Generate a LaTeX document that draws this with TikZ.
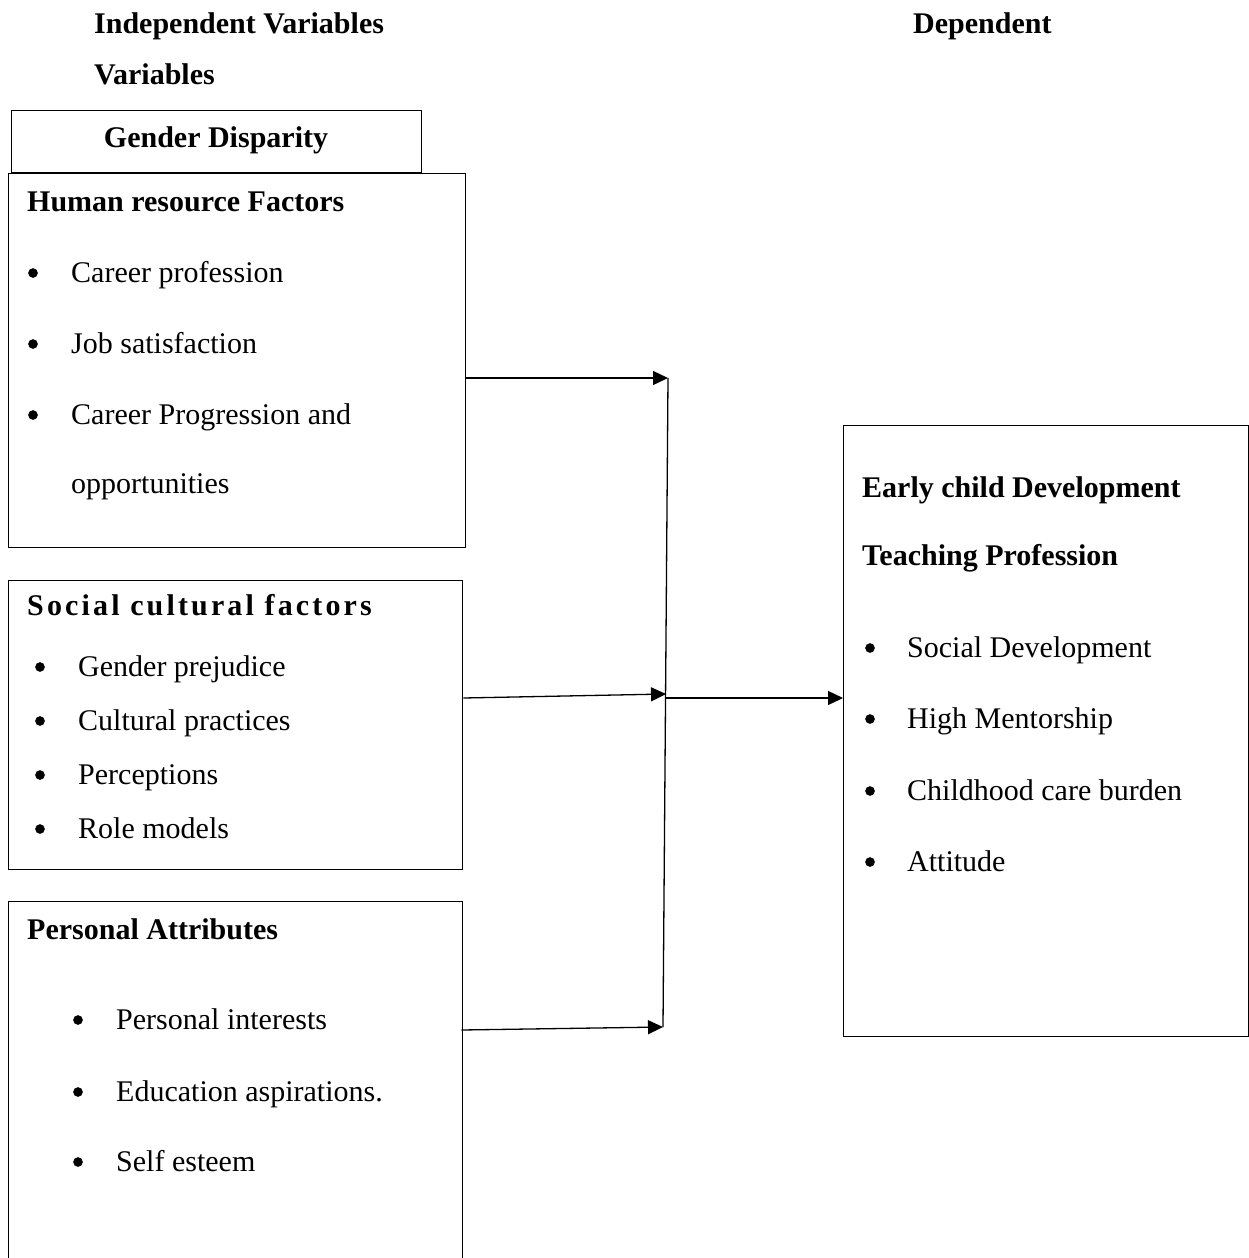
\documentclass[tikz,border=0pt]{standalone}
\usepackage{fontspec}
\setmainfont{Liberation Serif}
\usetikzlibrary{arrows.meta}
\begin{document}
\begin{tikzpicture}[x=1pt,y=-1pt,
  box/.style={draw, line width=1.3pt, inner sep=0pt, anchor=north west},
  txt/.style={anchor=base west, inner sep=0pt, font=\fontsize{30}{36}\selectfont},
  btxt/.style={anchor=base west, inner sep=0pt, font=\fontsize{30}{36}\selectfont\bfseries},
  bul/.style={circle, draw=black, fill=black, line width=0.5pt, inner sep=0pt, minimum size=9pt},
  arr/.style={line width=1.3pt, -{Triangle[length=15pt,width=14pt]}},
  ln/.style={line width=1.3pt}]
\useasboundingbox (0,0) rectangle (1249,1258);
\clip (0,0) rectangle (1249,1258);

% headers
\node[btxt] (h1) at (94,33) {Independent Variables};
\node[btxt] (h2) at (94,84) {Variables};
\node[btxt] (h3) at (913,33) {Dependent};

% boxes
\node[box, minimum width=410, minimum height=62] (gd) at (11,110) {};
\node[btxt, anchor=base] (gdt) at (216,147) {Gender Disparity};

\node[box, minimum width=457, minimum height=374] (hr) at (8,173) {};
\node[box, minimum width=454, minimum height=289] (sc) at (8,580) {};
\node[box, minimum width=454, minimum height=400] (pa) at (8,901) {};
\node[box, minimum width=405, minimum height=611] (ec) at (843,425) {};

% HR box
\node[btxt] (hrt) at (27,211) {Human resource Factors};
\node[bul] (hb1) at (33,273) {}; \node[txt] (hi1) at (71,282) {Career profession};
\node[bul] (hb2) at (33,344) {}; \node[txt] (hi2) at (71,353) {Job satisfaction};
\node[bul] (hb3) at (33,415) {}; \node[txt] (hi3) at (71,424) {Career Progression and};
\node[txt] (hi4) at (71,493) {opportunities};

% Social box
\node[btxt, font=\fontsize{30}{36}\selectfont\bfseries\addfontfeature{LetterSpace=10.5}] (sct) at (27,615) {Social cultural factors};
\node[bul] (sb1) at (40,667) {}; \node[txt] (si1) at (78,676) {Gender prejudice};
\node[bul] (sb2) at (40,721) {}; \node[txt] (si2) at (78,730) {Cultural practices};
\node[bul] (sb3) at (40,775) {}; \node[txt] (si3) at (78,784) {Perceptions};
\node[bul] (sb4) at (40,829) {}; \node[txt] (si4) at (78,838) {Role models};

% Personal box
\node[btxt] (pat) at (27,939) {Personal Attributes};
\node[bul] (pb1) at (78,1020) {}; \node[txt] (pi1) at (116,1029) {Personal interests};
\node[bul] (pb2) at (78,1092) {}; \node[txt] (pi2) at (116,1101) {Education aspirations.};
\node[bul] (pb3) at (78,1162) {}; \node[txt] (pi3) at (116,1171) {Self esteem};

% Right box
\node[btxt] (ect1) at (862,497) {Early child Development};
\node[btxt] (ect2) at (862,565) {Teaching Profession};
\node[bul] (eb1) at (870,648) {}; \node[txt] (ei1) at (907,657) {Social Development};
\node[bul] (eb2) at (870,719) {}; \node[txt] (ei2) at (907,728) {High Mentorship};
\node[bul] (eb3) at (870,791) {}; \node[txt] (ei3) at (907,800) {Childhood care burden};
\node[bul] (eb4) at (870,862) {}; \node[txt] (ei4) at (907,871) {Attitude};

% connectors
\coordinate (v1) at (668,378);
\coordinate (v2) at (666,694);
\coordinate (vm) at (666,698);
\coordinate (v3) at (663,1027);
\draw[ln] (v1) -- (v3);
\draw[arr] (hr.east |- v1) -- (v1);
\draw[arr] (sc.east |- vm) -- (v2);
\draw[arr] ([xshift=-2pt]pa.east |- 0,1030) -- (v3);
\draw[arr] (vm) -- (ec.west |- vm);
\end{tikzpicture}
\end{document}
